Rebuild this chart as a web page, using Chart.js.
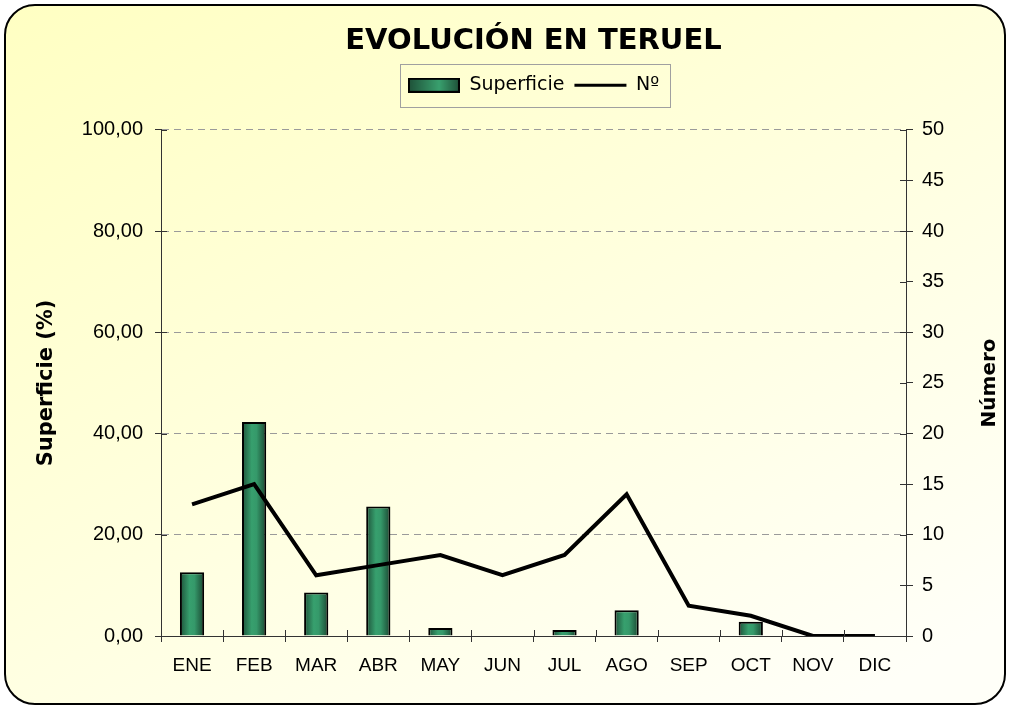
<!DOCTYPE html>
<html>
<head>
<meta charset="utf-8">
<script src="https://cdn.jsdelivr.net/npm/chart.js@4.4.1/dist/chart.umd.min.js"></script>
<style>
  html, body { margin: 0; padding: 0; background: #fff; }
  #caja { width: 1010px; height: 709px; }
</style>
</head>
<body>
<div id="caja"><canvas id="myChart" width="1010" height="709"></canvas></div>
<script>
// datos
var meses = ['ENE', 'FEB', 'MAR', 'ABR', 'MAY', 'JUN', 'JUL', 'AGO', 'SEP', 'OCT', 'NOV', 'DIC'];
var superficie = [12.6, 42.3, 8.6, 25.6, 1.6, 0, 1.2, 5.1, 0, 2.8, 0, 0];
var numero = [13, 15, 6, 7, 8, 6, 8, 14, 3, 2, 0, 0];
var etiquetasIzq = ['0,00', '20,00', '40,00', '60,00', '80,00', '100,00'];
var etiquetasDer = ['0', '5', '10', '15', '20', '25', '30', '35', '40', '45', '50'];

var fuente = "'Liberation Sans', Arial, sans-serif";
var fuenteAncha = "'DejaVu Sans', sans-serif";
Chart.defaults.font.family = fuente;
Chart.defaults.color = '#000';

var canvas = document.getElementById("myChart");
var anchoBarra = 0.39;

// simbolo de la leyenda para las barras
var muestra = document.createElement('canvas');
muestra.width = 52; muestra.height = 15;
(function() {
  var c = muestra.getContext('2d');
  var g = c.createLinearGradient(0, 0, 52, 0);
  g.addColorStop(0, '#1e4f37');
  g.addColorStop(0.6, '#39a06e');
  g.addColorStop(1, '#1e4f37');
  c.fillStyle = g;
  c.fillRect(1, 1, 50, 13);
  c.strokeStyle = '#000';
  c.lineWidth = 2;
  c.strokeRect(1, 1, 50, 13);
})();

var fondo = {
  id: 'fondo',
  beforeLayout: function(chart) {
    var lg = chart.legend;
    if (lg && !lg._alto) {
      var fit = lg.fit;
      lg.fit = function() { fit.call(this); this.height = 64; };
      lg._alto = true;
    }
  },
  beforeDraw: function(chart) {
    var ctx = chart.ctx;
    ctx.save();
    ctx.fillStyle = '#fff';
    ctx.fillRect(0, 0, chart.width, chart.height);
    var g = ctx.createLinearGradient(0, 0, 500, 900);
    g.addColorStop(0, '#ffffc2');
    g.addColorStop(1, '#fffff8');
    ctx.beginPath();
    ctx.roundRect(5, 5, 1000, 699, 30);
    ctx.fillStyle = g;
    ctx.fill();
    ctx.lineWidth = 2;
    ctx.strokeStyle = '#000';
    ctx.stroke();
    ctx.restore();
  },
  afterDraw: function(chart) {
    var ctx = chart.ctx;
    var area = chart.chartArea;
    ctx.save();
    // parte interior de las marcas de los ejes
    ctx.strokeStyle = '#333';
    ctx.lineWidth = 1;
    ctx.beginPath();
    var sy = chart.scales.y, sy1 = chart.scales.y1, sx = chart.scales.x;
    sy.ticks.forEach(function(t) {
      var p = Math.round(sy.getPixelForValue(t.value)) + 0.5;
      ctx.moveTo(area.left, p); ctx.lineTo(area.left + 6, p);
    });
    sy1.ticks.forEach(function(t) {
      var p = Math.round(sy1.getPixelForValue(t.value)) + 0.5;
      ctx.moveTo(area.right, p); ctx.lineTo(area.right - 6, p);
    });
    var paso = area.width / meses.length;
    for (var i = 0; i <= meses.length; i++) {
      var px = Math.round(area.left + i * paso) + 0.5;
      ctx.moveTo(px, area.bottom); ctx.lineTo(px, area.bottom - 6);
    }
    ctx.stroke();
    // marco de la leyenda
    var cajas = chart.legend.legendHitBoxes;
    if (cajas && cajas.length) {
      var x0 = cajas[0].left, x1 = cajas[cajas.length - 1].left + cajas[cajas.length - 1].width;
      var y0 = cajas[0].top, y1 = cajas[0].top + cajas[0].height;
      ctx.strokeStyle = '#a0a0a0';
      ctx.strokeRect(Math.round(x0 - 8) + 0.5, Math.round(y0 - 12) + 0.5, Math.round(x1 - x0 + 19), Math.round(y1 - y0 + 24));
    }
    // titulo del eje derecho
    ctx.translate(990, (area.top + area.bottom) / 2);
    ctx.rotate(-Math.PI / 2);
    ctx.font = "bold 20px " + fuenteAncha;
    ctx.fillStyle = '#000';
    ctx.textAlign = 'center';
    ctx.textBaseline = 'middle';
    ctx.fillText('Número', 0, 0);
    ctx.restore();
  }
};

var ctx = canvas.getContext("2d");
var chart = new Chart(ctx, {
  type: 'bar',
  data: {
    labels: meses,
    datasets: [{
      type: 'line',
      label: 'Nº',
      data: numero,
      yAxisID: 'y1',
      borderColor: '#000',
      backgroundColor: '#000',
      borderWidth: 4,
      pointRadius: 0,
      tension: 0,
      order: 0
    }, {
      label: 'Superficie',
      data: superficie,
      yAxisID: 'y',
      order: 1,
      barPercentage: anchoBarra,
      categoryPercentage: 1,
      borderColor: '#000',
      borderWidth: 2,
      backgroundColor: function(c) {
        var ch = c.chart;
        var x = ch.scales.x;
        if (!x || c.dataIndex === undefined || !ch.chartArea) return '#2e8b5e';
        var cx = x.getPixelForValue(c.dataIndex);
        var mitad = (ch.chartArea.width / meses.length) * anchoBarra / 2;
        var g = ch.ctx.createLinearGradient(cx - mitad, 0, cx + mitad, 0);
        g.addColorStop(0, '#1e5139');
        g.addColorStop(0.4, '#37a06e');
        g.addColorStop(0.6, '#35996a');
        g.addColorStop(1, '#1a4631');
        return g;
      }
    }]
  },
  options: {
    responsive: false,
    animation: false,
    layout: { padding: 0 },
    plugins: {
      title: {
        display: true,
        text: 'EVOLUCIÓN EN TERUEL',
        font: { family: fuenteAncha, size: 29, weight: 'bold' },
        color: '#000',
        fullSize: false,
        padding: { top: 24, bottom: 7 }
      },
      legend: {
        display: true,
        fullSize: false,
        labels: {
          usePointStyle: true,
          pointStyleWidth: 52,
          padding: 10,
          font: { family: fuenteAncha, size: 19 },
          color: '#000',
          generateLabels: function(ch) {
            return [{
              text: 'Superficie', pointStyle: muestra, fillStyle: '#2e8b5e', strokeStyle: '#000',
              lineWidth: 0, datasetIndex: 1, hidden: false
            }, {
              text: 'Nº', pointStyle: 'line', fillStyle: '#000', strokeStyle: '#000',
              lineWidth: 3, datasetIndex: 0, hidden: false
            }];
          }
        }
      },
      tooltip: { enabled: false }
    },
    scales: {
      x: {
        offset: true,
        grid: { offset: true, drawOnChartArea: false, tickLength: 6, color: '#333', tickWidth: 1 },
        border: { color: '#333', width: 1 },
        ticks: { font: { size: 19 }, color: '#000', padding: 12, maxRotation: 0 },
        afterFit: function(s) { s.height = 73; }
      },
      y: {
        position: 'left',
        min: 0, max: 100,
        ticks: {
          stepSize: 20,
          font: { size: 20 },
          color: '#000',
          padding: 12,
          callback: function(v, i) { return etiquetasIzq[i]; }
        },
        grid: { color: '#9a9a9a', tickColor: '#333', tickLength: 6, tickBorderDash: [] },
        border: { color: '#333', width: 1, dash: [7, 5] },
        title: {
          display: true,
          text: 'Superficie (%)',
          font: { family: fuenteAncha, size: 21, weight: 'bold' },
          color: '#000',
          padding: { top: 34, bottom: 0 }
        },
        afterFit: function(s) { s.width = 161; }
      },
      y1: {
        position: 'right',
        min: 0, max: 50,
        ticks: {
          stepSize: 5,
          font: { size: 20 },
          color: '#000',
          padding: 9,
          callback: function(v, i) { return etiquetasDer[i]; }
        },
        grid: { drawOnChartArea: false, tickLength: 7, color: '#333' },
        border: { color: '#333', width: 1 },
        afterFit: function(s) { s.width = 104; }
      }
    }
  },
  plugins: [fondo]
});
</script>
</body>
</html>
